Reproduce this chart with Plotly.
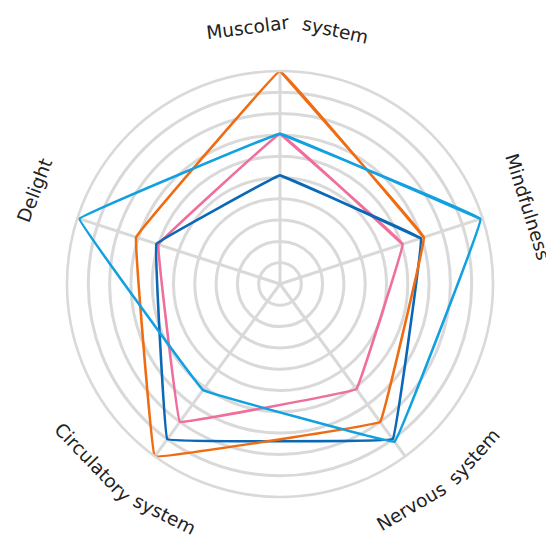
import math
import plotly.graph_objects as go

categories = ["Muscolar system", "Mindfulness", "Nervous system", "Circulatory system", "Delight"]
orange_vals = [10, 7.1, 8.0, 10, 7.1]
lightblue_vals = [7.05, 9.9, 9.15, 6.15, 9.9]
darkblue_vals = [5.1, 6.95, 9.0, 9.0, 6.1]
pink_vals = [7.05, 6.05, 6.1, 8.0, 6.0]

series = [
    ("pink", pink_vals, "#f06e9c"),
    ("darkblue", darkblue_vals, "#0a68b6"),
    ("orange", orange_vals, "#f06c12"),
    ("lightblue", lightblue_vals, "#11a0e0"),
]

W, H = 554, 540
OFF = 8  # page body margin
CX, CY, R = 280 - OFF, 284 - OFF, 213
GRID = "#d9d9d9"

fig = go.Figure()
for name, vals, col in series:
    fig.add_trace(go.Scatterpolar(
        r=vals + vals[:2], theta=categories + categories[:2], mode="lines",
        line=dict(color=col, width=2.6, shape="spline", smoothing=0.08),
        name=name, showlegend=False, hoverinfo="skip"))

fig.update_layout(
    width=W, height=H, margin=dict(l=0, r=0, t=0, b=0),
    paper_bgcolor="white", showlegend=False,
    polar=dict(
        domain=dict(x=[(CX - R) / W, (CX + R) / W], y=[1 - (CY + R) / H, 1 - (CY - R) / H]),
        bgcolor="white",
        radialaxis=dict(range=[0, 10], dtick=1, showticklabels=False, ticks="",
                        showline=False, gridcolor=GRID, gridwidth=2.6),
        angularaxis=dict(rotation=90, direction="clockwise", showticklabels=False, ticks="",
                         showline=True, linecolor=GRID, linewidth=2.6,
                         gridcolor=GRID, gridwidth=2.6),
    ),
)

# curved labels approximated word by word: (word, clockwise angle from top, radius)
label_words = [
    ("Muscolar", -7.3, 259), ("system", 12.4, 260),
    ("Mindfulness", 72.7, 259),
    ("system", 131.7, 260), ("Nervous", 149.4, 258),
    ("system", 206.6, 258), ("Circulatory", 226.3, 259),
    ("Delight", 290.9, 263),
]
for word, th, rr in label_words:
    px = CX + rr * math.sin(math.radians(th))
    py = CY - rr * math.cos(math.radians(th))
    if 90 < th < 270:
        ang = th - 180
    elif th >= 270:
        ang = th - 360
    else:
        ang = th
    fig.add_annotation(x=px / W, y=1 - py / H, xref="paper", yref="paper",
                       text=word, showarrow=False, textangle=ang,
                       xanchor="center", yanchor="middle",
                       font=dict(family="DejaVu Sans", size=18.5, color="#222222"))

fig.write_html("out.html")
